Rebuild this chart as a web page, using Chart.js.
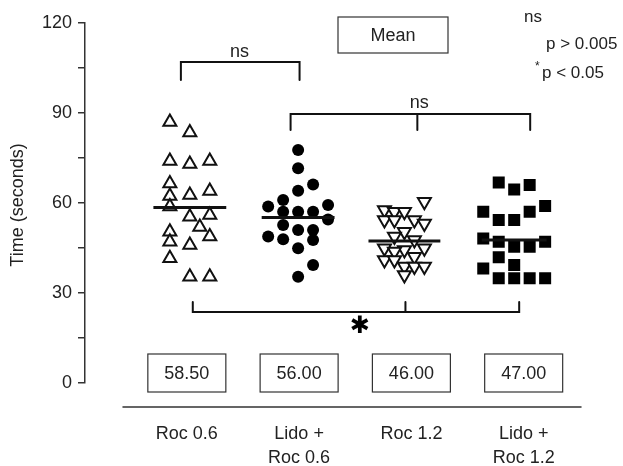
<!DOCTYPE html>
<html>
<head>
<meta charset="utf-8">
<script src="https://cdn.jsdelivr.net/npm/chart.js@4"></script>
<style>
  body { margin: 0; background: #fff; }
  canvas { display: block; }
</style>
</head>
<body>
<canvas id="chart" width="623" height="466"></canvas>
<script>
// Data
const groups = ['Roc 0.6', 'Lido + Roc 0.6', 'Roc 1.2', 'Lido + Roc 1.2'];
const meanLabels = ['58.50', '56.00', '46.00', '47.00'];
const yTickLabels = [0, 30, 60, 90, 120];

const roc06 = [87, 83.5, 74, 73, 74, 66.5, 62.3, 62.7, 64, 58.8, 55.4, 56, 52, 50.4, 47.1, 46, 48.8, 41.6, 35.4, 35.4];
const roc06Col = [-1, 0, -1, 0, 1, -1, -1, 0, 1, -1, 0, 1, 0.5, -1, -1, 0, 1, -1, 0, 1];

const lidoRoc06 = [77.7, 71.6, 64.1, 66.2, 61, 58.8, 59.3, 57.1, 57.1, 57.1, 54.5, 52.7, 48.8, 47.9, 51, 51, 47.7, 44.9, 39.3, 35.4];
const lidoRoc06Col = [0, 0, 0, 1, -1, -2, 2, -1, 0, 1, 2, -1, -2, -1, 0, 1, 1, 0, 1, 0];

const roc12 = [60.4, 57.7, 57.1, 57.1, 54.3, 54.3, 54.3, 53.2, 50.4, 48.8, 47.7, 44.9, 44.3, 44.9, 43.8, 41, 41, 42.1, 38.8, 38.8, 38.8, 36];
const roc12Col = [2, -2, -1, 0, -2, -1, 1, 2, 0, -1, 1, -2, 0, 2, -1, -2, -1, 1, 0, 1, 2, 0];

const lidoRoc12 = [66.8, 64.5, 66, 57.1, 54.3, 54.3, 57.1, 59, 48.2, 47.1, 45.4, 45.4, 47.1, 41.9, 39.3, 38.2, 34.9, 34.9, 34.9, 34.9];
const lidoRoc12Col = [-1, 0, 1, -2, -1, 0, 1, 2, -2, -1, 0, 1, 2, -1, 0, -2, -1, 0, 1, 2];

// horizontal bar drawn through each group
const lineVals = [58.5, 55.2, 47.3, 47.7];

// layout (pixels, converted to x units below)
const pxPerUnit = 112.5;
const colStep = [20, 15, 10, 15.5];
const clusterShift = [3, -1, -7, -9.5];
const lineHalf = [36.5, 36.5, 36, 32.5];

const ink = '#111';
const textCol = '#222';
const fontFam = '"Liberation Sans", Arial, Helvetica, sans-serif';

function toPoints(vals, cols, g) {
  return vals.map((v, i) => ({
    x: g + (clusterShift[g] + cols[i] * colStep[g]) / pxPerUnit,
    y: v
  }));
}

function meanLine(g) {
  const c = g + clusterShift[g] / pxPerUnit;
  const h = lineHalf[g] / pxPerUnit;
  return [{ x: c - h, y: lineVals[g] }, { x: c + h, y: lineVals[g] }];
}

const series = [roc06, lidoRoc06, roc12, lidoRoc12];
const cols = [roc06Col, lidoRoc06Col, roc12Col, lidoRoc12Col];
const styles = [
  { pointStyle: 'triangle', pointRadius: 7.5, pointBorderWidth: 2, pointBorderColor: ink, pointBackgroundColor: '#fff', pointRotation: 0 },
  { pointStyle: 'circle', pointRadius: 6, pointBorderWidth: 0, pointBorderColor: ink, pointBackgroundColor: '#000', pointRotation: 0 },
  { pointStyle: 'triangle', pointRadius: 7.5, pointBorderWidth: 2, pointBorderColor: ink, pointBackgroundColor: '#fff', pointRotation: 180 },
  { pointStyle: 'rect', pointRadius: 8.5, pointBorderWidth: 0, pointBorderColor: ink, pointBackgroundColor: '#000', pointRotation: 0 }
];

const datasets = [];
series.forEach((vals, g) => {
  datasets.push(Object.assign({
    label: groups[g],
    data: toPoints(vals, cols[g], g),
    showLine: false,
    order: 2
  }, styles[g]));
});
series.forEach((vals, g) => {
  datasets.push({
    label: groups[g] + ' line',
    data: meanLine(g),
    showLine: true,
    borderColor: ink,
    borderWidth: 3,
    pointRadius: 0,
    order: 1
  });
});

// brackets, boxes, labels
const annotations = {
  id: 'annotations',
  afterDraw(chart) {
    const ctx = chart.ctx;
    const xs = chart.scales.x, ys = chart.scales.y;
    const X = v => xs.getPixelForValue(v);
    const Y = v => ys.getPixelForValue(v);
    ctx.save();

    // y axis title
    ctx.fillStyle = textCol;
    ctx.font = '18px ' + fontFam;
    ctx.textAlign = 'center';
    ctx.textBaseline = 'middle';
    ctx.save();
    ctx.translate(18, 205);
    ctx.rotate(-Math.PI / 2);
    ctx.fillText('Time (seconds)', 0, 0);
    ctx.restore();

    ctx.strokeStyle = ink;
    ctx.lineWidth = 2;
    ctx.lineCap = 'round';

    // ns bracket between group 1 and 2
    ctx.beginPath();
    ctx.moveTo(X(-0.053), Y(101));
    ctx.lineTo(X(-0.053), Y(107));
    ctx.lineTo(X(1.004), Y(107));
    ctx.lineTo(X(1.004), Y(101));
    ctx.stroke();
    ctx.fillText('ns', X(0.47), Y(110.3));

    // ns bracket across groups 2-4
    ctx.beginPath();
    ctx.moveTo(X(0.924), Y(84.3));
    ctx.lineTo(X(0.924), Y(89.7));
    ctx.lineTo(X(3.058), Y(89.7));
    ctx.lineTo(X(3.058), Y(84.3));
    ctx.moveTo(X(2.053), Y(89.7));
    ctx.lineTo(X(2.053), Y(84.3));
    ctx.stroke();
    ctx.fillText('ns', X(2.07), Y(93.3));

    // significant bracket underneath
    ctx.beginPath();
    ctx.moveTo(X(0.053), Y(27));
    ctx.lineTo(X(0.053), Y(23.7));
    ctx.lineTo(X(2.96), Y(23.7));
    ctx.lineTo(X(2.96), Y(27));
    ctx.moveTo(X(1.947), Y(23.7));
    ctx.lineTo(X(1.947), Y(27));
    ctx.stroke();
    ctx.font = 'bold 24px "DejaVu Sans", sans-serif';
    ctx.fillStyle = '#000';
    ctx.fillText('\u2731', X(1.54), 327);

    // value boxes
    ctx.font = '18px ' + fontFam;
    ctx.fillStyle = textCol;
    ctx.strokeStyle = '#333';
    ctx.lineWidth = 1.2;
    meanLabels.forEach((t, i) => {
      const cx = X(i);
      ctx.strokeRect(cx - 39, 354, 78, 38);
      ctx.fillText(t, cx, 374);
    });

    // separator line
    ctx.lineWidth = 1.5;
    ctx.beginPath();
    ctx.moveTo(123, 407);
    ctx.lineTo(581, 407);
    ctx.stroke();

    // category labels
    groups.forEach((g, i) => {
      const parts = g.split(' + ');
      if (parts.length > 1) {
        ctx.fillText(parts[0] + ' +', X(i), 434);
        ctx.fillText(parts[1], X(i), 458);
      } else {
        ctx.fillText(g, X(i), 434);
      }
    });

    // "Mean" key box
    ctx.lineWidth = 1.2;
    ctx.strokeRect(338, 17, 110, 36);
    ctx.fillText('Mean', 393, 36);

    // significance legend
    ctx.textAlign = 'left';
    ctx.font = '17px ' + fontFam;
    ctx.fillText('ns', 524, 17);
    ctx.fillText('p > 0.005', 546, 44);
    ctx.fillText('p < 0.05', 542, 73);
    ctx.font = '12px ' + fontFam;
    ctx.fillText('*', 535, 67);

    ctx.restore();
  }
};

new Chart(document.getElementById('chart'), {
  type: 'scatter',
  data: { datasets: datasets },
  options: {
    responsive: false,
    animation: false,
    layout: { padding: { left: 0, right: 8.5, top: 23, bottom: 83 } },
    scales: {
      x: { type: 'linear', min: -0.907, max: 3.8, display: false },
      y: {
        min: 0,
        max: 120,
        ticks: {
          stepSize: 15,
          padding: 6,
          color: textCol,
          font: { family: fontFam, size: 18 },
          callback: v => yTickLabels.includes(v) ? String(v) : ''
        },
        grid: { drawOnChartArea: false, tickLength: 7, color: '#333', lineWidth: 1.5 },
        border: { color: '#333', width: 1.5 },
        afterFit: s => { s.width = 85; }
      }
    },
    plugins: {
      legend: { display: false },
      tooltip: { enabled: false }
    }
  },
  plugins: [annotations]
});
</script>
</body>
</html>
